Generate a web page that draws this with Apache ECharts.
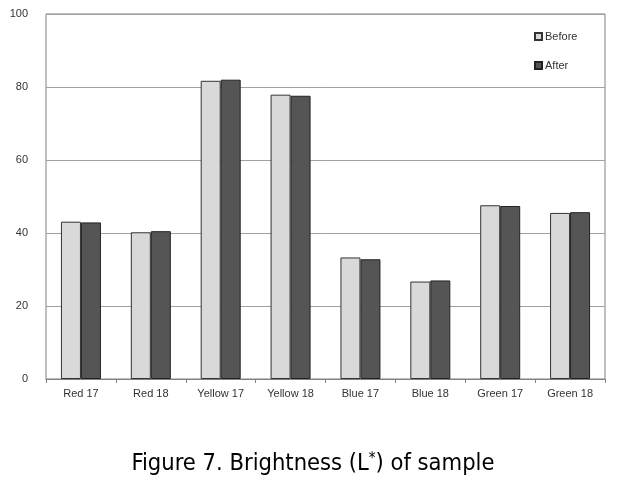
<!DOCTYPE html>
<html><head><meta charset="utf-8">
<script src="https://cdn.jsdelivr.net/npm/echarts@6/dist/echarts.min.js"></script>
<style>html,body{margin:0;padding:0;background:#fff}#c{width:626px;height:481px}</style>
</head><body><div id="c"></div>
<script>
const categories = ['Red 17','Red 18','Yellow 17','Yellow 18','Blue 17','Blue 18','Green 17','Green 18'];
const before = [43.1, 40.2, 81.7, 77.9, 33.3, 26.7, 47.6, 45.5];
const after = [42.9, 40.5, 82.0, 77.6, 32.8, 27.0, 47.4, 45.7];
const yTicks = [0, 20, 40, 60, 80, 100];

const chart = echarts.init(document.getElementById('c'), null, {renderer:'canvas'});
chart.setOption({
  animation: false,
  backgroundColor: '#fff',
  title: {
    text: 'Figure 7. Brightness (L{s|*}) of sample',
    left: 'center', top: 447,
    textStyle: {
      fontFamily: 'DejaVu Sans Condensed', fontSize: 23.5, fontWeight: 'normal', color: '#000',
      rich: { s: { fontFamily: 'DejaVu Sans Condensed', fontSize: 15, verticalAlign: 'top', padding: [0,0,9,0], color:'#000' } }
    }
  },
  legend: {
    orient: 'vertical', left: 529, top: 26,
    itemWidth: 7, itemHeight: 7, itemGap: 18,
    icon: 'rect',
    textStyle: { fontFamily: 'Liberation Sans', fontSize: 11, color: '#333', padding: [0,0,0,-2] },
    data: ['Before','After']
  },
  grid: { left: 46, top: 14, right: 21, bottom: 102, show: true, borderColor: '#808080', borderWidth: 1 },
  xAxis: {
    type: 'category', data: categories,
    axisLine: { lineStyle: { color: '#808080' } },
    axisTick: { show: true, length: 4, lineStyle: { color: '#808080' } },
    axisLabel: { fontFamily: 'Liberation Sans', fontSize: 11, color: '#333', margin: 9 }
  },
  yAxis: {
    type: 'value', min: yTicks[0], max: yTicks[yTicks.length-1], interval: 20,
    axisLine: { show: false }, axisTick: { show: false },
    axisLabel: { fontFamily: 'Liberation Sans', fontSize: 11, color: '#333', margin: 18 },
    splitLine: { lineStyle: { color: '#a0a0a0', width: 1 } }
  },
  series: [
    { name: 'Before', type: 'bar', data: before, barWidth: 20, barGap: '0%',
      itemStyle: { color: '#d9d9d9', borderColor: '#333', borderWidth: 1 } },
    { name: 'After', type: 'bar', data: after, barWidth: 20,
      itemStyle: { color: '#555555', borderColor: '#222', borderWidth: 1 } }
  ]
});
</script></body></html>
